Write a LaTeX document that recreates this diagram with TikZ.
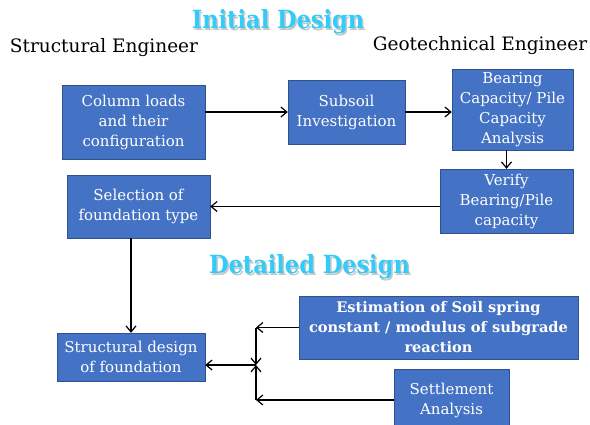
\documentclass[tikz,border=0pt]{standalone}
\usepackage{fontspec}
\setmainfont{DejaVu Serif}
\newfontfamily\condfont{DejaVu Serif Condensed}
\usetikzlibrary{arrows.meta,shadows}
\definecolor{boxblue}{HTML}{4472C4}
\definecolor{boxedge}{HTML}{2F528F}
\definecolor{titlecyan}{HTML}{33CCF8}
\tikzset{
  stepbox/.style={draw=boxedge, fill=boxblue, text=white, align=center, inner sep=1pt,
    font=\fontsize{15}{20}\selectfont},
  heading/.style={text=titlecyan, font=\condfont\bfseries\fontsize{25}{28}\selectfont},
  role/.style={font=\fontsize{18.5}{22}\selectfont},
  link/.style={-{Straight Barb[length=6pt,width=10pt,line width=1.2pt]}, line width=1.1pt}
}
\begin{document}
\begin{tikzpicture}[x=1pt,y=-1pt]
\useasboundingbox (0,0) rectangle (590,424);
\clip (0,0) rectangle (590,424);
\fill[white] (0,0) rectangle (590,424);
% headings
\node[heading, text=gray!45] at (279.5,23.5) {Initial Design};
\node[heading] (initial) at (278,22) {Initial Design};
\node[heading, text=gray!45] at (311,268.5) {Detailed Design};
\node[heading] (detailed) at (309.5,267) {Detailed Design};
\node[role] (structural) at (104,48) {Structural Engineer};
\node[role] (geotech) at (480,46) {Geotechnical Engineer};
% boxes
\node[stepbox, minimum width=143pt, minimum height=74pt] (loads) at (133.5,122) {Column loads\\and their\\configuration};
\node[stepbox, minimum width=117pt, minimum height=64pt] (subsoil) at (346.5,112) {Subsoil\\Investigation};
\node[stepbox, minimum width=121pt, minimum height=81pt] (capacity) at (512.5,109.5) {Bearing\\Capacity/ Pile\\Capacity\\Analysis};
\node[stepbox, minimum width=133pt, minimum height=64pt] (verify) at (506.5,201) {Verify\\Bearing/Pile\\capacity};
\node[stepbox, minimum width=143pt, minimum height=63pt] (selection) at (138.5,206.5) {Selection of\\foundation type};
\node[stepbox, minimum width=148pt, minimum height=48pt] (design) at (131,357) {Structural design\\of foundation};
\node[stepbox, minimum width=279pt, minimum height=63pt, font=\bfseries\fontsize{14.6}{20}\selectfont] (spring) at (438.5,327.5) {Estimation of Soil spring\\constant / modulus of subgrade\\reaction};
\node[stepbox, minimum width=115pt, minimum height=62pt] (settle) at (451.5,400) {Settlement\\Analysis};
\coordinate (joint) at (256,365);
% connectors
\draw[link] (loads.east |- subsoil.west) -- (subsoil.west);
\draw[link] (subsoil.east) -- (capacity.west |- subsoil.east);
\draw[link] (capacity.south -| verify.north) -- (verify.north);
\draw[link] (verify.west |- selection.east) -- (selection.east);
\draw[link] (selection.south -| design.north) -- (design.north);
\draw[link] (spring.west) -- (spring.west -| joint);
\draw[link] (spring.west -| joint) -- (joint);
\draw[link] (settle.west) -- (settle.west -| joint);
\draw[link] (settle.west -| joint) -- (joint);
\draw[link] (joint) -- (design.east |- joint);
\end{tikzpicture}
\end{document}
